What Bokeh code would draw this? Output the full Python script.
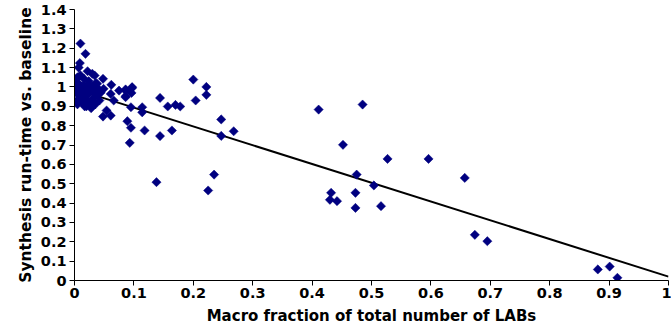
import math
from bokeh.plotting import figure
from bokeh.models import FixedTicker, Range1d
from bokeh.embed import file_html
from bokeh.resources import INLINE

# Scatter data: macro fraction vs. synthesis run-time ratio
x_vals = [0.010, 0.0185, 0.009, 0.007, 0.022, 0.030, 0.034, 0.005, 0.016, 0.048,
          0.062, 0.038, 0.049, 0.075, 0.086, 0.097, 0.096, 0.061, 0.066, 0.086,
          0.144, 0.200, 0.222, 0.222, 0.204, 0.157, 0.170, 0.178, 0.095, 0.114,
          0.114, 0.054, 0.048, 0.061, 0.089, 0.095, 0.118, 0.164, 0.144, 0.247,
          0.247, 0.268, 0.093, 0.138, 0.235, 0.225, 0.086, 0.097, 0.086,
          0.411, 0.485, 0.452, 0.527, 0.596, 0.475, 0.504, 0.657, 0.432, 0.430,
          0.442, 0.473, 0.473, 0.516, 0.674, 0.695, 0.881, 0.901, 0.914,
          0.002, 0.003, 0.004, 0.005, 0.006, 0.008, 0.010, 0.012, 0.013, 0.015,
          0.016, 0.018, 0.020, 0.020, 0.022, 0.024, 0.025, 0.027, 0.028, 0.030,
          0.031, 0.033, 0.035, 0.036, 0.038, 0.040, 0.042, 0.044, 0.003, 0.010,
          0.006, 0.017, 0.025]
y_vals = [1.224, 1.171, 1.123, 1.100, 1.081, 1.068, 1.059, 1.050, 1.042, 1.042,
          1.011, 1.016, 0.990, 0.981, 0.981, 0.995, 0.969, 0.964, 0.930, 0.947,
          0.943, 1.038, 1.000, 0.959, 0.930, 0.899, 0.907, 0.899, 0.895, 0.895,
          0.869, 0.878, 0.847, 0.852, 0.823, 0.789, 0.775, 0.775, 0.746, 0.832,
          0.747, 0.771, 0.711, 0.508, 0.547, 0.465, 0.987, 0.999, 0.952,
          0.883, 0.909, 0.701, 0.628, 0.628, 0.547, 0.491, 0.530, 0.453, 0.417,
          0.410, 0.453, 0.375, 0.384, 0.236, 0.203, 0.057, 0.072, 0.014,
          1.000, 0.970, 0.930, 0.910, 1.020, 0.980, 0.950, 1.000, 0.920, 0.970,
          1.010, 0.940, 0.990, 0.900, 0.960, 1.030, 0.920, 0.980, 0.890, 1.000,
          0.940, 0.970, 0.910, 1.020, 0.960, 0.990, 0.930, 0.970, 1.040, 1.060,
          0.990, 0.900, 1.010]

# Linear trend line
trend_x = [0.0, 1.0]
trend_y = [0.99, 0.02]

x_ticks = [0, 0.1, 0.2, 0.3, 0.4, 0.5, 0.6, 0.7, 0.8, 0.9, 1.0]
y_ticks = [0, 0.1, 0.2, 0.3, 0.4, 0.5, 0.6, 0.7, 0.8, 0.9, 1.0, 1.1, 1.2, 1.3, 1.4]


def fmt(v):
    s = ("%.1f" % v)
    return s[:-2] if s.endswith(".0") else s


p = figure(width=671, height=332, output_backend="svg", toolbar_location=None,
           x_range=Range1d(0, 1), y_range=Range1d(0, 1.4),
           min_border_left=74, min_border_right=3, min_border_top=9, min_border_bottom=52)
p.outline_line_color = None
p.xgrid.visible = False
p.ygrid.visible = False
p.background_fill_color = "white"
p.border_fill_color = "white"

p.line(trend_x, trend_y, line_color="black", line_width=2)
p.scatter(x_vals, y_vals, marker="square", angle=math.pi / 4, size=6.5,
          fill_color="#000080", line_color="#000080", line_width=0.5)

for ax, ticks in ((p.xaxis, x_ticks), (p.yaxis, y_ticks)):
    ax.ticker = FixedTicker(ticks=ticks)
    ax.major_label_overrides = {t: fmt(t) for t in ticks}
    ax.minor_tick_line_color = None
    ax.major_tick_in = 0
    ax.major_tick_out = 5
    ax.axis_line_color = "black"
    ax.major_tick_line_color = "black"
    ax.major_label_text_font = "DejaVu Sans"
    ax.major_label_text_font_style = "bold"
    ax.major_label_text_font_size = "14.5px"
    ax.major_label_text_color = "black"
    ax.axis_label_text_font = "DejaVu Sans"
    ax.axis_label_text_font_style = "bold"
    ax.axis_label_text_font_size = "15px"
    ax.axis_label_text_color = "black"

p.yaxis.axis_label_text_font_size = "15.5px"
p.xaxis.axis_label = "Macro fraction of total number of LABs"
p.yaxis.axis_label = "Synthesis run-time vs. baseline"
p.xaxis.major_label_standoff = 2
p.yaxis.major_label_standoff = 3
p.xaxis.axis_label_standoff = 6
p.yaxis.axis_label_standoff = 3

open("out.html", "w").write(file_html(p, INLINE))
